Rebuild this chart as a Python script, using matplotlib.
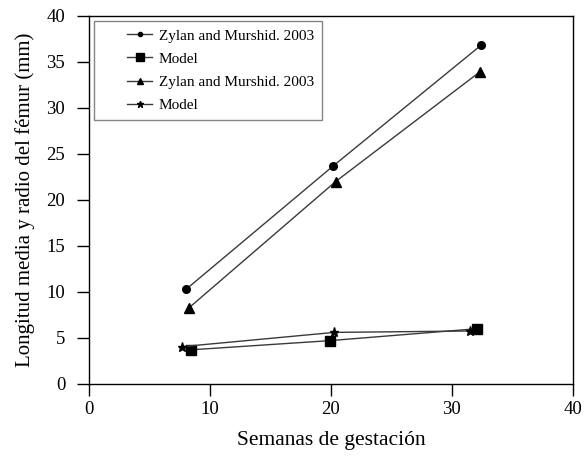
import matplotlib
matplotlib.use("Agg")
import matplotlib.pyplot as plt
from matplotlib.legend_handler import HandlerLine2D

plt.rcParams['font.family'] = ['Liberation Serif', 'DejaVu Serif']

x_circ = [8.05, 20.2, 32.4]
y_circ = [10.3, 23.7, 36.8]
x_sq = [8.4, 19.9, 32.1]
y_sq = [3.7, 4.7, 6.0]
x_tri = [8.3, 20.4, 32.3]
y_tri = [8.3, 22.0, 33.9]
x_star = [7.7, 20.3, 31.5]
y_star = [4.05, 5.6, 5.75]

labels = ["Zylan and Murshid. 2003", "Model", "Zylan and Murshid. 2003", "Model"]


class ShiftedHandler(HandlerLine2D):
    """Draws the legend line only in the right part of the handle box."""
    def __init__(self, shift_px, **kw):
        super().__init__(**kw)
        self.shift_px = shift_px

    def create_artists(self, legend, orig_handle, xdescent, ydescent,
                       width, height, fontsize, trans):
        d = self.shift_px
        return super().create_artists(legend, orig_handle, xdescent - d, ydescent,
                                      width - d, height, fontsize, trans)


fig = plt.figure(figsize=(5.85, 4.57), dpi=100)
ax = fig.add_axes([0.152, 0.160, 0.827, 0.805])

lc = '#3a3a3a'
l1, = ax.plot(x_circ, y_circ, color=lc, lw=1.0, marker='o', ms=5.5, mfc='black', mec='black', label=labels[0])
l2, = ax.plot(x_sq, y_sq, color=lc, lw=1.0, marker='s', ms=6.5, mfc='black', mec='black', label=labels[1])
l3, = ax.plot(x_tri, y_tri, color=lc, lw=1.0, marker='^', ms=6.5, mfc='black', mec='black', label=labels[2])
l4, = ax.plot(x_star, y_star, color=lc, lw=1.0, marker='*', ms=6.5, mfc='black', mec='black', label=labels[3])

ax.set_xlim(0, 40)
ax.set_ylim(0, 40)
ax.set_xticks([0, 10, 20, 30, 40])
ax.set_yticks([0, 5, 10, 15, 20, 25, 30, 35, 40])
ax.tick_params(direction='out', length=8.6, width=1, labelsize=13.5)
ax.tick_params(axis='y', pad=8.5)
ax.tick_params(axis='x', pad=4)
for s in ax.spines.values():
    s.set_linewidth(1.0)
ax.set_xlabel("Semanas de gestación", fontsize=15.5, labelpad=9)
ax.set_ylabel("Longitud media y radio del fémur (mm)", fontsize=15, labelpad=8)

hmap = {h: ShiftedHandler(18) for h in (l1, l2, l3, l4)}
leg = ax.legend(loc='upper left', fontsize=11, frameon=True, fancybox=False,
                edgecolor='#666666', borderaxespad=0.35, handlelength=3.3,
                handletextpad=0.42, labelspacing=0.62, borderpad=0.5,
                handler_map=hmap)
leg.get_frame().set_linewidth(1.0)
for h, ms in zip(leg.legend_handles, [3.0, 6.0, 4.0, 5.0]):
    h.set_markersize(ms)

fig.savefig("out.png", dpi=100)
